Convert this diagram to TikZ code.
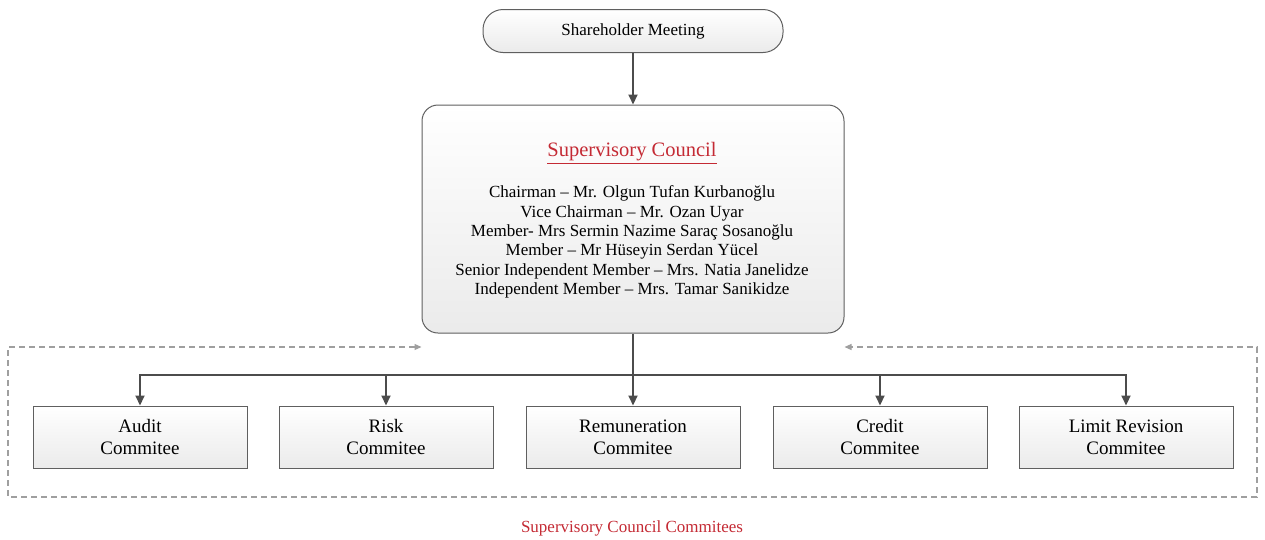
\documentclass[tikz,border=0pt]{standalone}
\usepackage{fontspec}
\setmainfont{Liberation Serif}
\usetikzlibrary{arrows.meta}
\definecolor{capred}{RGB}{196,42,52}
\definecolor{edge}{RGB}{95,95,95}

\begin{document}
\begin{tikzpicture}[x=1pt,y=1pt,
  box/.style={draw=edge,line width=1pt,top color=white,bottom color=gray!16,inner sep=0pt},
  cbox/.style={box,minimum width=214,minimum height=62,align=center,font=\fontsize{19}{22}\selectfont},
  link/.style={draw=black!70,line width=2pt,-{Triangle[length=10pt,width=9pt]}},
  back/.style={draw=gray!75,line width=1.2pt,dash pattern=on 6pt off 4pt,{Triangle[length=7pt,width=6pt]}-{Triangle[length=7pt,width=6pt]}}]
  \useasboundingbox (0,0) rectangle (1265,-539);
  \node[box,rounded corners=20pt,minimum width=300,minimum height=43,font=\fontsize{17}{20}\selectfont] (meeting) at (633,-31) {Shareholder Meeting};
  \node[box,rounded corners=16pt,minimum width=422,minimum height=228] (council) at (633,-219) {};
  \node[capred,font=\fontsize{20.5}{24}\selectfont] (title) at (632,-153) {\underline{Supervisory Council}};
  \node[align=center,font=\fontsize{17}{19.4}\selectfont] (members) at (632,-242) {%
    Chairman – Mr. Olgun Tufan Kurbanoğlu\\
    Vice Chairman – Mr. Ozan Uyar\\
    Member- Mrs Sermin Nazime Saraç Sosanoğlu\\
    Member – Mr Hüseyin Serdan Yücel\\
    Senior Independent Member – Mrs. Natia Janelidze\\
    Independent Member – Mrs. Tamar Sanikidze};
  \draw[link] (meeting) -- (council);
  % committees
  \foreach \n/\x/\t in {audit/140/Audit,risk/386/Risk,remuneration/633/Remuneration,credit/880/Credit,limit/1126/Limit Revision}
    \node[cbox] (\n) at (\x,-437) {\t\\Commitee};
  \coordinate (bus) at (council.south |- 0,-375);
  \draw[link] (council.south) -- (remuneration.north);
  \foreach \n in {audit,risk,credit,limit}
    \draw[link] (bus) -| (\n.north);
  \coordinate (lefttip) at (council.west |- 0,-347);
  \coordinate (righttip) at (council.east |- 0,-347);
  \draw[back] (lefttip) -- (8,-347) -- (8,-497) -- (1257,-497) -- (1257,-347) -- (righttip);
  \node[capred,font=\fontsize{17}{20}\selectfont] (caption) at (632,-528) {Supervisory Council Commitees};
\end{tikzpicture}
\end{document}
